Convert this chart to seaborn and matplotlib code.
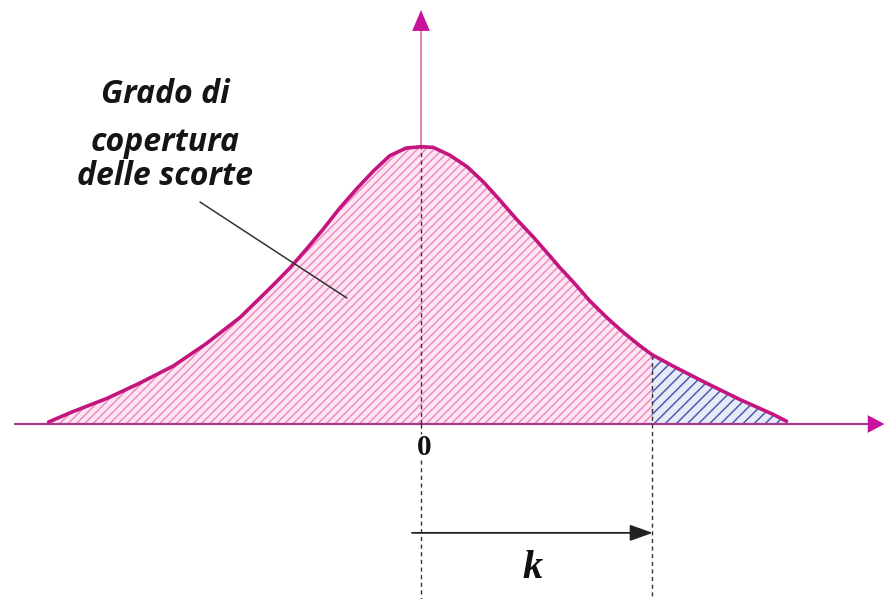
import numpy as np
import pandas as pd
import matplotlib
matplotlib.use("Agg")
import matplotlib.pyplot as plt
import seaborn as sns

# Bell curve read as (standardised value, density height)
z_vals = [-2.74, -2.56, -2.31, -2.07, -1.82, -1.58, -1.33, -1.09, -0.96, -0.84,
          -0.72, -0.60, -0.47, -0.35, -0.23, -0.11, 0.00, 0.09, 0.21, 0.34, 0.46,
          0.58, 0.70, 0.83, 0.95, 1.02, 1.12, 1.24, 1.37, 1.49, 1.61, 1.70, 1.86,
          2.10, 2.35, 2.59, 2.69]
density = [0.003, 0.018, 0.037, 0.059, 0.084, 0.116, 0.154, 0.200, 0.226, 0.253,
           0.281, 0.311, 0.340, 0.365, 0.387, 0.398, 0.400, 0.399, 0.388, 0.371,
           0.349, 0.323, 0.296, 0.269, 0.242, 0.226, 0.205, 0.178, 0.153, 0.132,
           0.113, 0.100, 0.083, 0.059, 0.035, 0.014, 0.004]
k_value = 1.70
origin_label = "0"
k_label = "k"
note_lines = ["Grado di", "copertura", "delle scorte"]

df = pd.DataFrame({"z": z_vals, "f": density})

sns.set_theme(style="white")
plt.rcParams["hatch.linewidth"] = 1.1

fig = plt.figure(figsize=(8.84, 5.99), dpi=100)
ax = fig.add_axes([0, 0, 1, 1])
ax.set_xlim(-3.098, 3.407)
ax.set_ylim(-0.2524, 0.6116)
ax.axis("off")

curve_col = "#c4157f"
axis_col = "#a83a8e"
head_col = "#c8129c"

zs = np.array(z_vals)
fs = np.array(density)
left = zs <= k_value
right = zs >= k_value

# covered area (pink) and stock-out tail (blue)
ax.fill_between(zs[left], 0, fs[left], facecolor="#fde6f2", edgecolor="none", zorder=1)
ax.fill_between(zs[left], 0, fs[left], facecolor="none", edgecolor="#ee8cc2",
                hatch="////", linewidth=0, zorder=2)
ax.fill_between(zs[right], 0, fs[right], facecolor="#e6ebf8", edgecolor="none", zorder=1)
ax.fill_between(zs[right], 0, fs[right], facecolor="none", edgecolor="#4f5cb0",
                hatch="///", linewidth=0, zorder=2)

# horizontal axis with arrow
ax.plot([-2.99, 3.30], [0, 0], color=axis_col, lw=1.6, zorder=3)
ax.annotate("", xy=(3.41, 0), xytext=(3.25, 0),
            arrowprops=dict(arrowstyle="-|>,head_length=0.6,head_width=0.32",
                            mutation_scale=20, color=head_col, lw=0,
                            shrinkA=0, shrinkB=0), zorder=4)

# vertical axis with arrow
ax.plot([0, 0], [0.40, 0.570], color="#e27fb8", lw=1.4, zorder=3)
ax.annotate("", xy=(0, 0.597), xytext=(0, 0.555),
            arrowprops=dict(arrowstyle="-|>,head_length=0.75,head_width=0.32",
                            mutation_scale=20, color=head_col, lw=0,
                            shrinkA=0, shrinkB=0), zorder=4)

# dashed guides at the mean and at k
dash = dict(color="#333333", lw=1.0, linestyle=(0, (3, 2.5)), zorder=3)
ax.plot([0, 0], [0, 0.400], **dash)
ax.plot([0, 0], [-0.052, -0.2524], **dash)
ax.plot([0, 0], [0, -0.0144], **dash)
k_top = fs[zs == k_value][0]
ax.plot([k_value, k_value], [k_top, -0.2524], **dash)

# density curve
sns.lineplot(data=df, x="z", y="f", sort=False, color=curve_col, lw=2.6,
             ax=ax, zorder=5, solid_joinstyle="round", solid_capstyle="round")

# distance arrow between mean and k
ax.annotate("", xy=(k_value + 0.005, -0.157), xytext=(-0.066, -0.157),
            arrowprops=dict(arrowstyle="-|>,head_length=0.7,head_width=0.25",
                            mutation_scale=20, color="#222222", lw=1.3,
                            shrinkA=0, shrinkB=0), zorder=4)

ax.text(0.022, -0.0332, origin_label, ha="center", va="center",
        family="Liberation Serif", fontweight="bold", fontsize=21, color="#111111")
ax.text(0.824, -0.2077, k_label, ha="center", va="center",
        family="Liberation Serif", fontweight="bold", fontstyle="italic",
        fontsize=29, color="#111111")

# annotation text and leader line
baselines = [0.4627, 0.3945, 0.345]
for line, yb in zip(note_lines, baselines):
    ax.text(-1.884, yb, line, ha="center", va="baseline", family="Open Sans",
            fontweight="bold", fontstyle="italic", fontsize=23, color="#151515")
ax.plot([-1.626, -0.545], [0.3202, 0.1817], color="#333333", lw=1.1, zorder=6)

fig.savefig("out.png", dpi=100)
